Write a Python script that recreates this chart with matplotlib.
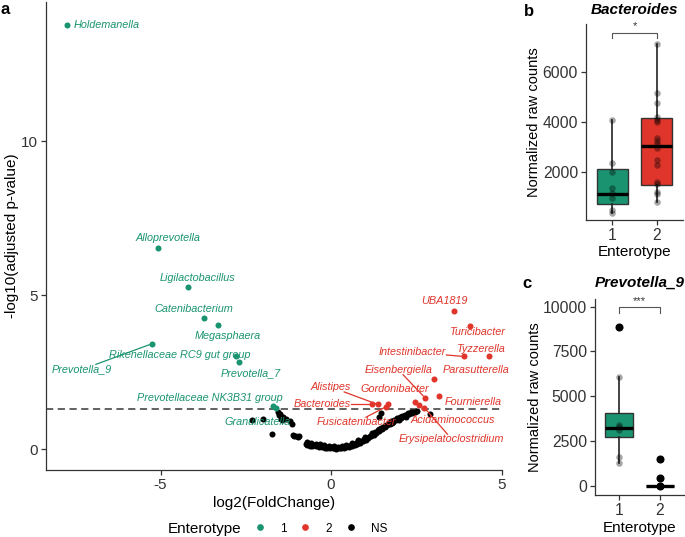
import matplotlib
matplotlib.use('Agg')
import matplotlib.pyplot as plt
import numpy as np
from matplotlib.lines import Line2D

plt.rcParams['font.family'] = ['Liberation Sans', 'DejaVu Sans']
plt.rcParams['axes.unicode_minus'] = False

W, H = 685, 537
GREEN = '#1A9470'
RED = '#E0352A'
AX_COL = '#333333'

# ---------------- Panel a data (volcano) ----------------
green_names = ['Holdemanella', 'Alloprevotella', 'Ligilactobacillus', 'Catenibacterium',
               'Megasphaera', 'Prevotella_9', 'Rikenellaceae RC9 gut group', 'Prevotella_7',
               'Prevotellaceae NK3B31 group', 'Granulicatella']
green_x = [-7.74, -5.07, -4.21, -3.74, -3.33, -5.26, -2.80, -2.69, -1.69, -1.61]
green_y = [13.79, 6.55, 5.26, 4.25, 4.02, 3.42, 3.02, 2.84, 1.40, 1.32]
green_lx = [-6.59, -4.77, -3.91, -4.03, -3.03, -7.30, -4.45, -2.37, -3.55, -2.16]
green_ly = [13.79, 6.87, 5.56, 4.55, 3.67, 2.59, 3.06, 2.48, 1.67, 0.87]

red_names = ['UBA1819', 'Turicibacter', 'Intestinibacter', 'Tyzzerella', 'Parasutterella',
             'Fournierella', 'Eisenbergiella', 'Acidaminococcus', 'Erysipelatoclostridium',
             'Bacteroides', 'Alistipes', 'Gordonibacter', 'Fusicatenibacter', '']
red_x = [3.60, 4.08, 3.89, 4.62, 3.03, 3.16, 2.75, 2.46, 2.73, 1.19, 1.37, 1.68, 1.62, 2.59]
red_y = [4.50, 4.01, 3.01, 3.01, 2.29, 1.74, 1.67, 1.53, 1.35, 1.45, 1.45, 1.45, 1.38, 1.42]
red_lx = [3.32, 4.27, 2.39, 4.39, 4.25, 4.17, 1.97, 3.58, 3.54, -0.27, -0.01, 1.88, 0.75, None]
red_ly = [4.82, 3.81, 3.15, 3.26, 2.58, 1.52, 2.58, 0.96, 0.32, 1.45, 2.02, 1.96, 0.88, None]

segment_names = ['Prevotella_9', 'Intestinibacter', 'Eisenbergiella', 'Alistipes',
                 'Bacteroides', 'Fusicatenibacter', 'Erysipelatoclostridium']

ns_x = [-2.32, -1.99, -1.74, -1.57, -1.52, -1.47, -1.42, -1.33, -1.21, -1.16, -1.13, -1.09,
        -1.03, -0.98, -0.95, -1.50, -1.45,
        -0.74, -0.70, -0.67, -0.63, -0.60, -0.55, -0.52, -0.47, -0.43, -0.40, -0.35, -0.31,
        -0.27, -0.23, -0.19, -0.15, -0.11, -0.07, -0.03, 0.01, 0.05, 0.09, 0.13, 0.17, 0.21,
        0.25, 0.29, 0.33, 0.37, 0.41, 0.45, 0.49, 0.53, 0.57, 0.61, 0.65, 0.69, 0.73, 0.77,
        0.81, 0.85, 0.89, 0.93, 0.97, 1.01, 1.05, 1.09, 1.13, 1.17, 1.21, 1.25, 1.29, 1.33,
        1.37, 1.41, 1.45, 1.49, 1.53, 1.57, 1.61, 1.65, 1.69, 1.73, 1.77, 1.81, 1.85, 1.89,
        1.93, 1.97, 2.01, 2.05, 2.09, 2.13, 2.17, 2.21, 2.25, 2.29, 2.33, 2.37, 2.41, 2.46,
        2.52, 1.46, 1.40, 2.90,
        -0.72, -0.58, -0.45, -0.33, -0.20, -0.05, 0.07, 0.19, 0.31, 0.44, 0.62, 0.80, 0.99,
        1.19, 1.39, 1.59, 1.79, 1.99, 2.19]
ns_y = [0.95, 0.98, 0.48, 1.21, 1.10, 0.97, 1.03, 0.99, 0.92, 0.81, 0.46, 0.41,
        0.44, 0.38, 0.43, 1.15, 0.93,
        0.17, 0.12, 0.15, 0.11, 0.14, 0.10, 0.13, 0.12, 0.09, 0.12, 0.08, 0.11,
        0.07, 0.10, 0.05, 0.08, 0.04, 0.07, 0.03, 0.06, 0.02, 0.04, 0.01, 0.03, 0.02,
        0.05, 0.03, 0.06, 0.05, 0.08, 0.06, 0.10, 0.08, 0.12, 0.11, 0.15, 0.14, 0.19, 0.17,
        0.23, 0.21, 0.27, 0.25, 0.32, 0.30, 0.37, 0.35, 0.43, 0.41, 0.49, 0.47, 0.55, 0.53,
        0.61, 0.59, 0.67, 0.65, 0.73, 0.71, 0.79, 0.77, 0.85, 0.83, 0.90, 0.88, 0.95, 0.93,
        1.00, 0.98, 1.04, 1.02, 1.08, 1.06, 1.12, 1.10, 1.16, 1.14, 1.20, 1.18, 1.22, 1.20,
        1.24, 1.16, 1.05, 1.14,
        0.22, 0.19, 0.17, 0.15, 0.13, 0.11, 0.09, 0.08, 0.10, 0.12, 0.20, 0.30, 0.40,
        0.52, 0.64, 0.74, 0.84, 0.94, 1.04]

padj_threshold = 1.30

# ---------------- Panel b data (Bacteroides) ----------------
b_g1 = [4080, 2365, 1990, 1330, 1130, 930, 460, 350]
b_g2 = [7139, 5155, 4777, 4213, 4080, 4012, 3344, 3248, 3115, 2941, 2470, 2270,
        1598, 1505, 1195, 1103, 793]
b_q1 = [712, 1465]
b_med = [1115, 3034]
b_q3 = [2097, 4161]
b_lo = [350, 793]
b_hi = [4080, 7139]

# ---------------- Panel c data (Prevotella_9) ----------------
c_g1 = [8883, 6089, 3391, 3260, 3112, 1620, 1251]
c_g2 = [1475, 413, 0, 0, 0, 0, 0, 0, 0, 0, 0, 0, 0, 0, 0, 0, 0]
c_q1 = [2721, 0]
c_med = [3240, 0]
c_q3 = [4078, 0]
c_lo = [1251, 0]
c_hi = [6089, 0]
c_fliers = [[8883], [1475, 413, 0]]

fig = plt.figure(figsize=(W / 100, H / 100), dpi=100)


def px_axes(l, t, r, b):
    return fig.add_axes([l / W, 1 - b / H, (r - l) / W, (b - t) / H])


def classic(ax, labelsize=11):
    for s in ['top', 'right']:
        ax.spines[s].set_visible(False)
    for s in ['left', 'bottom']:
        ax.spines[s].set_color(AX_COL)
        ax.spines[s].set_linewidth(0.9)
    ax.tick_params(length=3.5, width=0.9, color=AX_COL, labelsize=labelsize,
                   labelcolor='#333333', pad=2)


def ftext(x, y, s, **kw):
    return fig.text(x / W, 1 - y / H, s, **kw)


# ================= Panel a =================
axa = px_axes(45.7, 2, 502.3, 470)
classic(axa)
axa.set_xlim(-8.37, 5.02)
axa.set_ylim(-0.68, 14.53)
axa.set_xticks([-5, 0, 5])
axa.set_yticks([0, 5, 10])
axa.axhline(padj_threshold, color='#555555', lw=1.3, dashes=(4, 2.5), zorder=1)
PT = 19
axa.scatter(ns_x, ns_y, s=PT, color='black', lw=0, zorder=2)
axa.scatter(green_x, green_y, s=PT, color=GREEN, lw=0, zorder=3)
axa.scatter(red_x, red_y, s=PT, color=RED, lw=0, zorder=3)

label_items = []
for n, x, y, lx, ly in zip(green_names, green_x, green_y, green_lx, green_ly):
    t = axa.text(lx, ly, n, color=GREEN, fontsize=7.8, style='italic',
                 ha='center', va='center', zorder=4)
    label_items.append((n, t, x, y, GREEN))
for n, x, y, lx, ly in zip(red_names, red_x, red_y, red_lx, red_ly):
    if not n:
        continue
    t = axa.text(lx, ly, n, color=RED, fontsize=7.8, style='italic',
                 ha='center', va='center', zorder=4)
    label_items.append((n, t, x, y, RED))

ftext(274, 503, 'log2(FoldChange)', fontsize=11, ha='center', va='center')
ftext(12, 236, '-log10(adjusted p-value)', fontsize=11, ha='center', va='center', rotation=90)
ftext(5, 9, 'a', fontsize=12, fontweight='bold', ha='center', va='center')

# legend
handles = [Line2D([], [], marker='o', ls='', color=c, markersize=3.8) for c in [GREEN, RED, 'black']]
fig.legend(handles, ['1', '2', 'NS'], ncol=3, frameon=False, loc='center left',
           bbox_to_anchor=(254 / W, 1 - 528.5 / H), fontsize=8.5, handlelength=1.0,
           handletextpad=1.2, columnspacing=1.1, borderpad=0, borderaxespad=0)
ftext(168, 528.5, 'Enterotype', fontsize=11, ha='left', va='center')


def make_box(ax, q1, med, q3, lo, hi, fliers=None):
    stats = []
    for i in range(2):
        stats.append(dict(q1=q1[i], med=med[i], q3=q3[i], whislo=lo[i], whishi=hi[i],
                          fliers=(fliers[i] if fliers else [])))
    bp = ax.bxp(stats, positions=[1, 2], widths=0.7, patch_artist=True,
                showfliers=bool(fliers), showcaps=False,
                boxprops=dict(edgecolor=AX_COL, linewidth=1.0),
                medianprops=dict(color='black', linewidth=2.4, solid_capstyle='butt'),
                whiskerprops=dict(color='#222222', linewidth=1.2),
                flierprops=dict(marker='o', markerfacecolor='black', markeredgecolor='black',
                                markersize=4.8, linestyle='none'))
    for p, c in zip(bp['boxes'], [GREEN, RED]):
        p.set_facecolor(c)
    return bp


# ================= Panel b =================
axb = px_axes(585.7, 24, 683.3, 220)
classic(axb, labelsize=11.3)
make_box(axb, b_q1, b_med, b_q3, b_lo, b_hi)
axb.scatter(np.full(len(b_g1), 1), b_g1, s=22, color='black', alpha=0.35, lw=0, zorder=4)
axb.scatter(np.full(len(b_g2), 2), b_g2, s=22, color='black', alpha=0.35, lw=0, zorder=4)
axb.set_xlim(0.4, 2.6)
axb.set_ylim(56, 7944)
axb.set_xticks([1, 2])
axb.set_xticklabels(['1', '2'])
axb.set_yticks([2000, 4000, 6000])
axb.plot([1, 1, 2, 2], [7368, 7594, 7594, 7368], color='#555555', lw=0.8)
axb.text(1.5, 7640, '*', ha='center', va='bottom', fontsize=8, color='#333333')
ftext(634.5, 10, 'Bacteroides', fontsize=11, fontweight='bold', style='italic', ha='center', va='center')
ftext(534.5, 122, 'Normalized raw counts', fontsize=10.5, rotation=90, ha='center', va='center')
ftext(634.5, 252, 'Enterotype', fontsize=11, ha='center', va='center')
ftext(529, 11, 'b', fontsize=12, fontweight='bold', ha='center', va='center')

# ================= Panel c =================
axc = px_axes(594.7, 299, 684.3, 495)
classic(axc, labelsize=11.3)
make_box(axc, c_q1, c_med, c_q3, c_lo, c_hi, c_fliers)
axc.scatter(np.full(len(c_g1), 1), c_g1, s=22, color='black', alpha=0.35, lw=0, zorder=4)
axc.scatter(np.full(len(c_g2), 2), c_g2, s=22, color='black', alpha=0.35, lw=0, zorder=4)
axc.set_xlim(0.4, 2.6)
axc.set_ylim(-520, 10430)
axc.set_xticks([1, 2])
axc.set_xticklabels(['1', '2'])
axc.set_yticks([0, 2500, 5000, 7500, 10000])
axc.plot([1, 1, 2, 2], [9665, 10000, 10000, 9665], color='#555555', lw=0.8)
axc.text(1.5, 10020, '***', ha='center', va='bottom', fontsize=8, color='#333333')
ftext(639.5, 283, 'Prevotella_9', fontsize=11, fontweight='bold', style='italic', ha='center', va='center')
ftext(535, 397, 'Normalized raw counts', fontsize=10.5, rotation=90, ha='center', va='center')
ftext(639.5, 528, 'Enterotype', fontsize=11, ha='center', va='center')
ftext(527, 284, 'c', fontsize=12, fontweight='bold', ha='center', va='center')

# ---- label connector segments (ggrepel-like) ----
fig.canvas.draw()
r = fig.canvas.get_renderer()
inv = axa.transData.inverted()
for n, t, x, y, col in label_items:
    if n not in segment_names:
        continue
    bb = t.get_window_extent(r)
    cx, cy = (bb.x0 + bb.x1) / 2, (bb.y0 + bb.y1) / 2
    P = axa.transData.transform((x, y))
    dx, dy = P[0] - cx, P[1] - cy
    sx = (bb.width / 2) / abs(dx) if dx else np.inf
    sy = (bb.height / 2) / abs(dy) if dy else np.inf
    s = min(sx, sy)
    start = (cx + dx * s, cy + dy * s)
    L = np.hypot(dx, dy)
    end = (P[0] - dx / L * 2.5, P[1] - dy / L * 2.5)
    S = inv.transform([start, end])
    axa.plot(S[:, 0], S[:, 1], color=col, lw=0.9, zorder=3.5)

fig.savefig('out.png', dpi=100)
